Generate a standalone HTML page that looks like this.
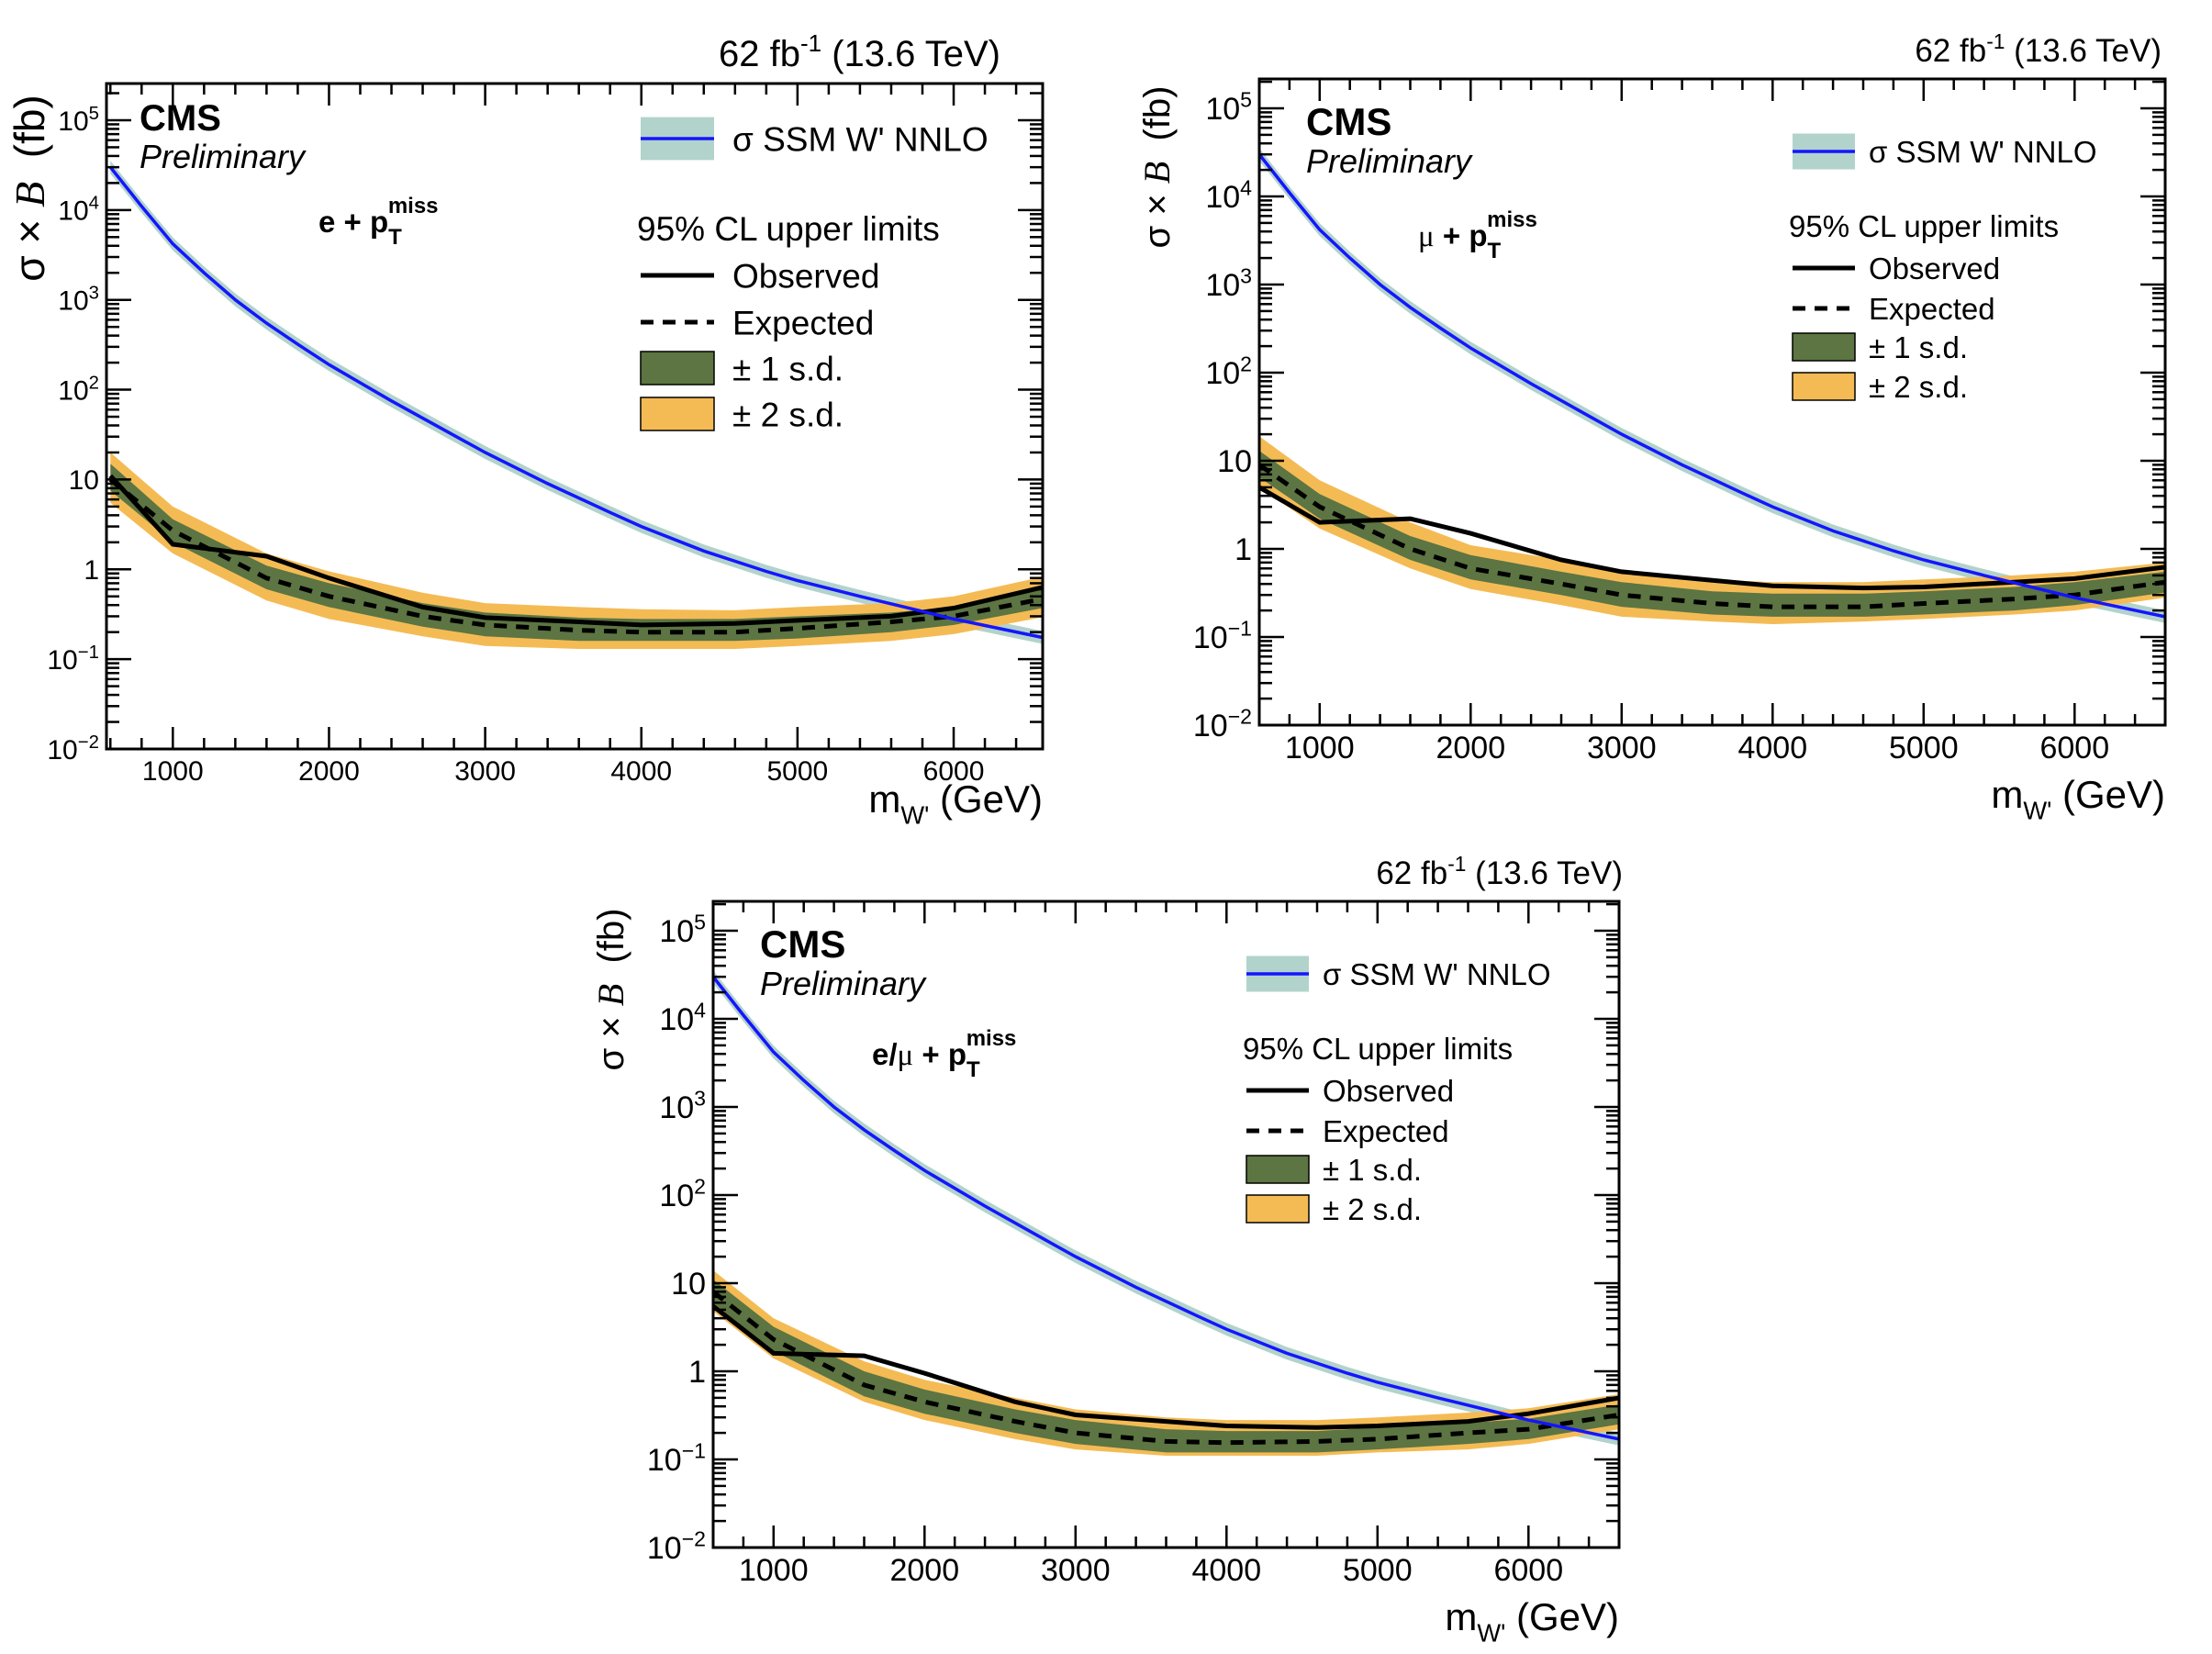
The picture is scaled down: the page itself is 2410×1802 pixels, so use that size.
<!DOCTYPE html>
<html><head><meta charset="utf-8">
<style>
html,body{margin:0;padding:0;background:#fff;}
svg{display:block;font-family:"Liberation Sans",sans-serif;}
</style></head>
<body>
<svg id="fig" width="2410" height="1802" viewBox="0 0 2410 1802" xmlns="http://www.w3.org/2000/svg"></svg>
<script>
// ---- data ----
const massPoints = [600,1000,1600,2000,2600,3000,3600,4000,4600,5000,5600,6000,6600];
const theoryMass = [600,800,1000,1200,1400,1600,1800,2000,2400,2800,3000,3400,3800,4000,4400,4800,5000,5400,5800,6000,6600];
const theoryXsec = [30000,11000,4200,2000,1000,550,320,190,75,31,20,9,4.3,3.0,1.6,0.95,0.75,0.5,0.34,0.28,0.17];

const eObs = [11,1.9,1.4,0.8,0.38,0.29,0.26,0.24,0.25,0.27,0.3,0.37,0.65];
const eExp = [10,2.7,0.8,0.5,0.3,0.24,0.21,0.2,0.2,0.22,0.26,0.3,0.48];
const e1Hi = [15,3.6,1.1,0.7,0.42,0.33,0.29,0.28,0.28,0.3,0.33,0.38,0.62];
const e1Lo = [7.5,2.0,0.6,0.38,0.23,0.18,0.16,0.16,0.16,0.17,0.2,0.24,0.38];
const e2Hi = [20,5,1.5,0.95,0.55,0.42,0.38,0.36,0.35,0.38,0.42,0.5,0.85];
const e2Lo = [5.5,1.5,0.45,0.28,0.18,0.14,0.13,0.13,0.13,0.14,0.16,0.19,0.3];

const muObs = [5,2,2.2,1.5,0.75,0.55,0.44,0.38,0.36,0.37,0.42,0.46,0.62];
const muExp = [9,3,1.0,0.6,0.4,0.3,0.24,0.22,0.22,0.24,0.27,0.3,0.42];
const mu1Hi = [13,4.2,1.4,0.85,0.55,0.42,0.33,0.31,0.31,0.33,0.37,0.42,0.55];
const mu1Lo = [6.5,2.2,0.75,0.45,0.3,0.22,0.18,0.17,0.17,0.18,0.2,0.23,0.32];
const mu2Hi = [19,6,2.0,1.1,0.75,0.55,0.45,0.42,0.42,0.45,0.5,0.55,0.7];
const mu2Lo = [5,1.7,0.6,0.35,0.23,0.17,0.15,0.14,0.15,0.16,0.18,0.2,0.28];

const cObs = [5.5,1.6,1.5,0.95,0.45,0.32,0.27,0.24,0.23,0.24,0.27,0.33,0.5];
const cExp = [8,2.3,0.7,0.45,0.27,0.2,0.16,0.155,0.16,0.17,0.2,0.22,0.32];
const c1Hi = [11,3.2,1.0,0.62,0.37,0.28,0.22,0.21,0.21,0.23,0.26,0.29,0.42];
const c1Lo = [6,1.7,0.52,0.33,0.2,0.15,0.12,0.12,0.12,0.13,0.15,0.17,0.25];
const c2Hi = [14,4,1.3,0.8,0.5,0.37,0.3,0.28,0.28,0.3,0.34,0.38,0.55];
const c2Lo = [4.8,1.4,0.45,0.28,0.17,0.13,0.11,0.11,0.11,0.12,0.13,0.15,0.22];

const xTickLabels = ["1000","2000","3000","4000","5000","6000"];
const yTickExps = [-2,-1,0,1,2,3,4,5];

const NS = "http://www.w3.org/2000/svg";
const svg = document.getElementById("fig");
function mk(tag, attrs, parent){
  const e = document.createElementNS(NS, tag);
  for (const k in attrs) e.setAttribute(k, attrs[k]);
  (parent||svg).appendChild(e);
  return e;
}
const GREEN="#5c7542", ORANGE="#f4bb55", TEAL="#b2d3cb", BLUE="#1515ff";

function panel(cfg){
  const g = mk("g", {});
  
  
  const {L,R,T,B,xmin,xmax,dec} = cfg;
  const X = v => L + (v - xmin)/(xmax - xmin)*(R - L);
  const Y = v => B - (Math.log10(v) + 2)*dec;
  const clip = mk("clipPath", {id: cfg.name+"-clip"}, g);
  mk("rect", {x:L, y:T, width:R-L, height:B-T}, clip);
  const plot = mk("g", {"clip-path":"url(#"+cfg.name+"-clip)"}, g);

  function band(lo, hi, color, nm){
    let d = "";
    massPoints.forEach((m,i)=>{ d += (i?"L":"M") + X(m).toFixed(1) + "," + Y(hi[i]).toFixed(1); });
    for (let i = massPoints.length-1; i >= 0; i--) d += "L" + X(massPoints[i]).toFixed(1) + "," + Y(lo[i]).toFixed(1);
    const p = mk("path", {d: d+"Z", fill: color, stroke: "none"}, plot);
    
    
  }
  function line(xs, ys, attrs, nm){
    const pts = xs.map((m,i)=> X(m).toFixed(1)+","+Y(ys[i]).toFixed(1)).join(" ");
    const p = mk("polyline", Object.assign({points: pts, fill:"none"}, attrs), plot);
    
    
  }
  let td = "";
  theoryMass.forEach((m,i)=>{ td += (i?"L":"M") + X(m).toFixed(1)+","+(Y(theoryXsec[i]*1.18)).toFixed(1); });
  for (let i = theoryMass.length-1; i>=0; i--) td += "L"+X(theoryMass[i]).toFixed(1)+","+(Y(theoryXsec[i]/1.18)).toFixed(1);
  const tb = mk("path", {d: td+"Z", fill: TEAL}, plot);
  
  

  band(cfg.s2lo, cfg.s2hi, ORANGE, "two-sigma-band");
  band(cfg.s1lo, cfg.s1hi, GREEN, "one-sigma-band");
  line(massPoints, cfg.exp, {stroke:"#000","stroke-width":5,"stroke-dasharray":"14,10"}, "expected-limit-line");
  line(massPoints, cfg.obs, {stroke:"#000","stroke-width":5}, "observed-limit-line");
  line(theoryMass, theoryXsec, {stroke:BLUE,"stroke-width":3.5}, "theory-xsec-line");

  const fr = mk("rect", {x:L, y:T, width:R-L, height:B-T, fill:"none", stroke:"#000", "stroke-width":3}, g);
  
  

  const tk = mk("g", {stroke:"#000","stroke-width":2.5}, g);
  for (let m = 200*Math.ceil(xmin/200); m <= xmax; m += 200){
    const len = (m % 1000 === 0) ? 24 : 12;
    const x = X(m);
    mk("line", {x1:x, y1:B, x2:x, y2:B-len}, tk);
    mk("line", {x1:x, y1:T, x2:x, y2:T+len}, tk);
  }
  for (let e = -2; e <= 6; e++){
    for (let k = 1; k <= 9; k++){
      const v = k*Math.pow(10,e);
      const y = Y(v);
      if (y < T || y > B) continue;
      const len = k===1 ? 27 : 14;
      mk("line", {x1:L, y1:y, x2:L+len, y2:y}, tk);
      mk("line", {x1:R, y1:y, x2:R-len, y2:y}, tk);
    }
  }
  xTickLabels.forEach(lbl=>{
    const t = mk("text", {x: X(+lbl), y: B + cfg.xlabDy, "font-size": cfg.tf, "text-anchor":"middle"}, g);
    t.textContent = lbl;
    
    
  });
  yTickExps.forEach(e=>{
    const y = Y(Math.pow(10,e)) + cfg.tf*0.36;
    const t = mk("text", {x: L-8, y: y, "font-size": cfg.tf, "text-anchor":"end"}, g);
    
    
    if (e === 0) t.textContent = "1";
    else if (e === 1) t.textContent = "10";
    else {
      const a = mk("tspan", {}, t); a.textContent = "10";
      const b = mk("tspan", {dy: -cfg.tf*0.4, "font-size": cfg.tf*0.68}, t);
      b.textContent = e < 0 ? "\u2212" + (-e) : String(e);
    }
  });
  const ti = mk("text", {x: cfg.titleX, y: cfg.titleY, "font-size": cfg.titleF, "text-anchor":"end"}, g);
  
  
  const t1 = mk("tspan", {}, ti); t1.textContent = "62 fb";
  const t2 = mk("tspan", {dy: -cfg.titleF*0.4, "font-size": cfg.titleF*0.65}, ti); t2.textContent = "-1";
  const t3 = mk("tspan", {dy: cfg.titleF*0.4}, ti); t3.textContent = " (13.6 TeV)";

  const cms = mk("text", {x: cfg.cmsX, y: cfg.cmsY, "font-size": cfg.cmsF, "font-weight":"bold"}, g);
  cms.textContent = "CMS";
  
  
  const pre = mk("text", {x: cfg.cmsX, y: cfg.cmsY+41, "font-size": cfg.preF, "font-style":"italic"}, g);
  pre.textContent = "Preliminary";
  
  

  const ch = mk("text", {x: cfg.chX, y: cfg.chY, "font-size": cfg.chF, "font-weight":"bold"}, g);
  
  
  cfg.ch.forEach(part=>{
    const s = mk("tspan", part.attrs||{}, ch); s.textContent = part.t;
  });

  const yt = mk("text", {transform:"translate("+cfg.ytX+","+cfg.ytY+") rotate(-90)", "font-size": cfg.ytF, "text-anchor":"middle"}, g);
  
  
  const y1 = mk("tspan", {}, yt); y1.textContent = "\u03c3 \u00d7 ";
  const y2 = mk("tspan", {"font-family":"Liberation Serif, serif","font-style":"italic"}, yt); y2.textContent = "B";
  const y3 = mk("tspan", {}, yt); y3.textContent = "\u00a0\u00a0(fb)";

  const xt = mk("text", {x: R, y: cfg.xtY, "font-size": cfg.xtF, "text-anchor":"end"}, g);
  
  
  const x1 = mk("tspan", {}, xt); x1.textContent = "m";
  const x2 = mk("tspan", {dy: cfg.xtF*0.3, "font-size": cfg.xtF*0.65}, xt); x2.textContent = "W'";
  const x3 = mk("tspan", {dy: -cfg.xtF*0.3}, xt); x3.textContent = " (GeV)";

  const lg = cfg.leg, lgG = mk("g", {}, g);
  
  
  function ltext(x, y, s, nm){
    const t = mk("text", {x:x, y:y, "font-size": lg.f}, lgG); t.textContent = s;
    
    
    return t;
  }
  mk("rect", {x: lg.x, y: lg.thY - lg.h*0.65, width: lg.w, height: lg.h*1.3, fill: TEAL}, lgG);
  mk("line", {x1: lg.x, y1: lg.thY, x2: lg.x+lg.w, y2: lg.thY, stroke: BLUE, "stroke-width":3.5}, lgG);
  ltext(lg.tx, lg.thY + lg.f*0.36, "\u03c3 SSM W' NNLO", "legend-theory");
  ltext(lg.x - 4, lg.clY, "95% CL upper limits", "legend-header");
  mk("line", {x1: lg.x, y1: lg.obsY, x2: lg.x+lg.w, y2: lg.obsY, stroke:"#000","stroke-width":5}, lgG);
  ltext(lg.tx, lg.obsY + lg.f*0.36, "Observed", "legend-observed");
  mk("line", {x1: lg.x, y1: lg.expY, x2: lg.x+lg.w, y2: lg.expY, stroke:"#000","stroke-width":5,"stroke-dasharray":"14,10"}, lgG);
  ltext(lg.tx, lg.expY + lg.f*0.36, "Expected", "legend-expected");
  mk("rect", {x: lg.x, y: lg.b1Y, width: lg.w, height: lg.h, fill: GREEN, stroke:"#000","stroke-width":1.5}, lgG);
  ltext(lg.tx, lg.b1Y + lg.h/2 + lg.f*0.36, "\u00b1 1 s.d.", "legend-one-sigma");
  mk("rect", {x: lg.x, y: lg.b2Y, width: lg.w, height: lg.h, fill: ORANGE, stroke:"#000","stroke-width":1.5}, lgG);
  ltext(lg.tx, lg.b2Y + lg.h/2 + lg.f*0.36, "\u00b1 2 s.d.", "legend-two-sigma");
}

const pT = [{t:"p"},{t:"T",attrs:{dy:13,"font-size":24}},{t:"miss",attrs:{dy:-34,dx:-15,"font-size":24}}];

panel({name:"panel-electron", L:116,R:1136,T:91,B:816,xmin:575,xmax:6570,dec:97.86,
  obs:eObs,exp:eExp,s1lo:e1Lo,s1hi:e1Hi,s2lo:e2Lo,s2hi:e2Hi,
  tf:30, xlabDy:34, titleX:1090, titleY:72, titleF:40,
  cmsX:152, cmsY:142, cmsF:40, preF:36, chX:347, chY:253, chF:33,
  ch:[{t:"e + "}].concat(pT),
  ytX:48, ytY:205, ytF:46, xtY:885, xtF:42,
  leg:{x:698,w:80,h:36,tx:798,f:37,thY:151,clY:262,obsY:300,expY:351,b1Y:383,b2Y:433}});

panel({name:"panel-muon", L:1372,R:2359,T:86,B:790,xmin:600,xmax:6600,dec:96,
  obs:muObs,exp:muExp,s1lo:mu1Lo,s1hi:mu1Hi,s2lo:mu2Lo,s2hi:mu2Hi,
  tf:34, xlabDy:36, titleX:2355, titleY:67, titleF:35,
  cmsX:1423, cmsY:147, cmsF:42, preF:36, chX:1545, chY:268, chF:33,
  ch:[{t:"\u03bc",attrs:{"font-weight":"normal","font-family":"Liberation Serif, serif"}},{t:" + "}].concat(pT),
  ytX:1274, ytY:182, ytF:40, xtY:880, xtF:42,
  leg:{x:1953,w:68,h:30,tx:2036,f:33,thY:165,clY:258,obsY:292,expY:336,b1Y:363,b2Y:406}});

panel({name:"panel-combined", L:777,R:1764,T:982,B:1686,xmin:600,xmax:6600,dec:96,
  obs:cObs,exp:cExp,s1lo:c1Lo,s1hi:c1Hi,s2lo:c2Lo,s2hi:c2Hi,
  tf:34, xlabDy:36, titleX:1768, titleY:963, titleF:35,
  cmsX:828, cmsY:1043, cmsF:42, preF:36, chX:950, chY:1160, chF:33,
  ch:[{t:"e/"},{t:"\u03bc",attrs:{"font-weight":"normal","font-family":"Liberation Serif, serif"}},{t:" + "}].concat(pT),
  ytX:679, ytY:1078, ytF:40, xtY:1776, xtF:42,
  leg:{x:1358,w:68,h:30,tx:1441,f:33,thY:1061,clY:1154,obsY:1188,expY:1232,b1Y:1259,b2Y:1302}});
</script>
</body></html>
